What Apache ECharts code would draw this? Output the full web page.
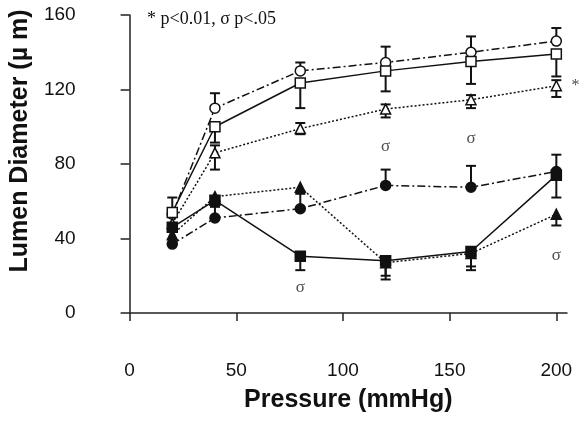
<!DOCTYPE html>
<html>
<head>
<meta charset="utf-8">
<script src="https://cdn.jsdelivr.net/npm/echarts@6/dist/echarts.min.js"></script>
<style>
  html, body { margin: 0; padding: 0; background: #fff; }
  #chart { width: 580px; height: 423px; }
</style>
</head>
<body>
<div id="chart"></div>
<script>
// pressure steps (mmHg)
let pressure = [20, 40, 80, 120, 160, 200];

// lumen diameter (um)
let openCircle     = [53, 110, 130, 134.5, 140, 146];
let openCircleUp   = [null, 118, 134.5, 143, 148.5, 153];
let openSquare     = [54, 100, 123.5, 130, 135, 139];
let openSquareUp   = [62, null, null, null, null, null];
let openSquareDown = [null, 91.5, 110, 119, 123, 127];
let openTri        = [48, 86, 99, 109.5, 114.5, 122];
let openTriUp      = [null, 90, 102, 112, 117, 125];
let openTriDown    = [null, 77, 96, 105, 110, 116];
let filledTri      = [42, 62.5, 67.5, 27, 32, 53];
let filledTriDown  = [null, null, null, 20, 25, 47];
let filledCircle   = [37, 51, 56, 68.5, 67.5, 76];
let filledCircleUp = [null, 57, 64, 77, 79, 85];
let filledSquare   = [46, 60.5, 30.5, 28, 33, 74];
let filledSquareDown = [null, null, 23, 18, 23, 62];

// significance marks
let sigmaX = [80, 120, 160, 200];
let sigmaY = [13.5, 89.5, 93.5, 31];
let starX = [209];
let starY = [122];

let xTicks = [0, 50, 100, 150, 200];

let myChart = echarts.init(document.getElementById('chart'));

let pairs = function(ys) {
    return pressure.map((x, i) => [x, ys[i]]);
}
let errData = function(vals, ends) {
    let out = [];
    pressure.forEach((x, i) => {
        if (ends[i] != null) out.push([x, vals[i], ends[i]]);
    });
    return out;
}
let allErr = []
    .concat(errData(openCircle, openCircleUp))
    .concat(errData(openSquare, openSquareUp))
    .concat(errData(openSquare, openSquareDown))
    .concat(errData(openTri, openTriUp))
    .concat(errData(openTri, openTriDown))
    .concat(errData(filledTri, filledTriDown))
    .concat(errData(filledCircle, filledCircleUp))
    .concat(errData(filledSquare, filledSquareDown));

let dashDot = [8, 3, 2, 3];
let dotted = [2, 2];

let lineSeries = function(data, symbol, filled, dash, size) {
    return {
        type: 'line',
        data: pairs(data),
        symbol: symbol,
        symbolSize: size || 9,
        showAllSymbol: true,
        z: 3,
        lineStyle: { color: '#111', width: 1.5, type: dash },
        itemStyle: {
            color: filled ? '#111' : '#fff',
            borderColor: '#111',
            borderWidth: 1.5
        }
    };
}

let option = {
    animation: false,
    backgroundColor: '#fff',
    title: {
        text: '* p<0.01, σ p<.05',
        left: 147,
        top: 10,
        padding: 0,
        textStyle: {
            fontFamily: 'Liberation Serif',
            fontWeight: 'normal',
            fontSize: 18,
            color: '#111'
        }
    },
    grid: { left: 127, right: 13, top: 15, bottom: 110 },
    xAxis: {
        type: 'value',
        min: 0,
        max: 205,
        offset: 31,
        name: 'Pressure (mmHg)',
        nameLocation: 'middle',
        nameGap: 44,
        nameTextStyle: {
            fontFamily: 'Liberation Sans',
            fontWeight: 'bold',
            fontSize: 25,
            color: '#111'
        },
        splitLine: { show: false },
        axisLine: { lineStyle: { color: '#222', width: 1.5 } },
        axisTick: { length: 8, customValues: xTicks, lineStyle: { color: '#222', width: 1.5 } },
        axisLabel: {
            customValues: xTicks,
            margin: 17,
            fontFamily: 'Liberation Sans',
            fontSize: 19,
            color: '#111'
        }
    },
    yAxis: {
        type: 'value',
        min: 0,
        max: 160,
        interval: 40,
        offset: 32,
        name: 'Lumen Diameter (µ m)',
        nameLocation: 'middle',
        nameGap: 57,
        nameTextStyle: {
            fontFamily: 'Liberation Sans',
            fontWeight: 'bold',
            fontSize: 25,
            color: '#111',
            padding: [0, 0, 0, 46]
        },
        splitLine: { show: false },
        axisLine: { show: true, lineStyle: { color: '#222', width: 1.5 } },
        axisTick: { show: true, length: 9, lineStyle: { color: '#222', width: 1.5 } },
        axisLabel: {
            margin: 22,
            fontFamily: 'Liberation Sans',
            fontSize: 19,
            color: '#111'
        }
    },
    series: [
        {
            type: 'custom',
            z: 2,
            data: allErr,
            encode: { x: 0, y: [1, 2] },
            renderItem: function(params, api) {
                let x = api.value(0);
                let p1 = api.coord([x, api.value(1)]);
                let p2 = api.coord([x, api.value(2)]);
                let st = { stroke: '#111', lineWidth: 2 };
                return {
                    type: 'group',
                    children: [
                        { type: 'line', shape: { x1: p1[0], y1: p1[1], x2: p2[0], y2: p2[1] }, style: st },
                        { type: 'line', shape: { x1: p2[0] - 5, y1: p2[1], x2: p2[0] + 5, y2: p2[1] }, style: st }
                    ]
                };
            }
        },
        lineSeries(openCircle, 'circle', false, dashDot, 10),
        lineSeries(openSquare, 'rect', false, 'solid', 10),
        lineSeries(openTri, 'triangle', false, dotted, 10),
        lineSeries(filledCircle, 'circle', true, dashDot, 10),
        lineSeries(filledTri, 'triangle', true, dotted, 10),
        lineSeries(filledSquare, 'rect', true, 'solid', 10),
        {
            type: 'scatter',
            clip: false,
            symbolSize: 1,
            itemStyle: { color: 'transparent' },
            label: {
                show: true,
                position: 'inside',
                formatter: 'σ',
                fontFamily: 'Liberation Serif',
                fontSize: 17,
                color: '#222'
            },
            data: sigmaX.map((x, i) => [x, sigmaY[i]])
        },
        {
            type: 'scatter',
            clip: false,
            symbolSize: 1,
            itemStyle: { color: 'transparent' },
            label: {
                show: true,
                position: 'inside',
                formatter: '*',
                fontFamily: 'Liberation Serif',
                fontSize: 16,
                color: '#222'
            },
            data: starX.map((x, i) => [x, starY[i]])
        }
    ]
};

myChart.setOption(option);
</script>
</body>
</html>
